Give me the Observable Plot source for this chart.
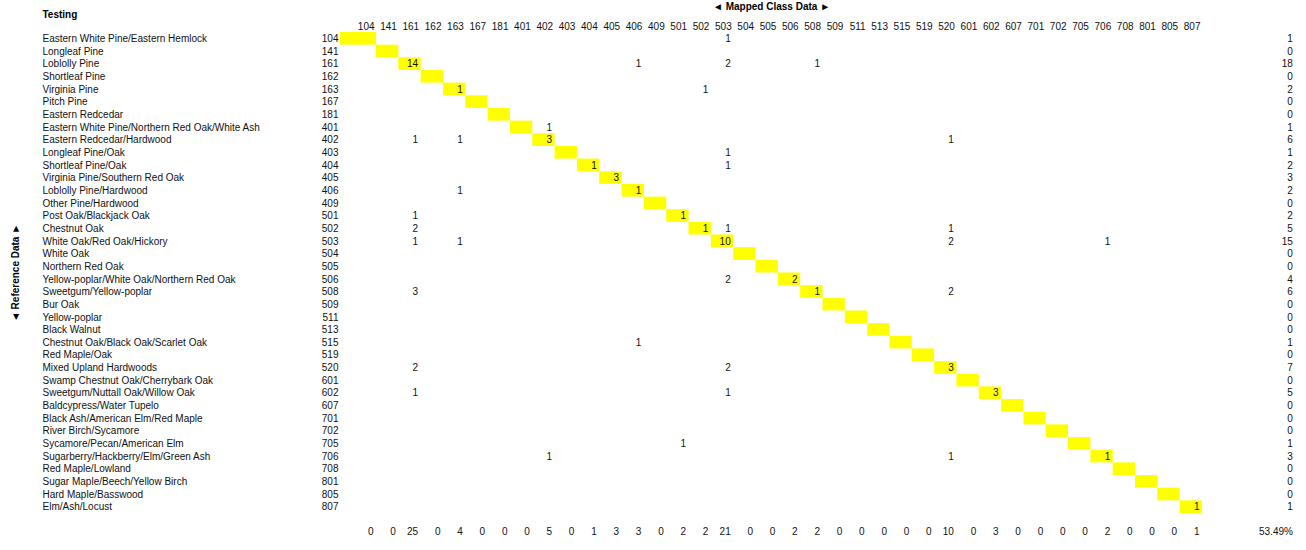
<!DOCTYPE html>
<html><head><meta charset="utf-8">
<script src="https://cdn.jsdelivr.net/npm/d3@7"></script>
<script src="https://cdn.jsdelivr.net/npm/@observablehq/plot@0.6"></script>
<style>body{margin:0;background:#fff;}</style>
</head><body><div id="chart"></div>
<script>
const title = "Testing";
const xTitle = "◄ Mapped Class Data ►";
const yTitle = "◄ Reference Data ►";

const codes = ["104","141","161","162","163","167","181","401","402","403","404","405","406","409",
  "501","502","503","504","505","506","508","509","511","513","515","519","520","601","602","607",
  "701","702","705","706","708","801","805","807"];

const names = ["Eastern White Pine/Eastern Hemlock","Longleaf Pine","Loblolly Pine","Shortleaf Pine",
  "Virginia Pine","Pitch Pine","Eastern Redcedar","Eastern White Pine/Northern Red Oak/White Ash",
  "Eastern Redcedar/Hardwood","Longleaf Pine/Oak","Shortleaf Pine/Oak","Virginia Pine/Southern Red Oak",
  "Loblolly Pine/Hardwood","Other Pine/Hardwood","Post Oak/Blackjack Oak","Chestnut Oak",
  "White Oak/Red Oak/Hickory","White Oak","Northern Red Oak","Yellow-poplar/White Oak/Northern Red Oak",
  "Sweetgum/Yellow-poplar","Bur Oak","Yellow-poplar","Black Walnut","Chestnut Oak/Black Oak/Scarlet Oak",
  "Red Maple/Oak","Mixed Upland Hardwoods","Swamp Chestnut Oak/Cherrybark Oak","Sweetgum/Nuttall Oak/Willow Oak",
  "Baldcypress/Water Tupelo","Black Ash/American Elm/Red Maple","River Birch/Sycamore",
  "Sycamore/Pecan/American Elm","Sugarberry/Hackberry/Elm/Green Ash","Red Maple/Lowland",
  "Sugar Maple/Beech/Yellow Birch","Hard Maple/Basswood","Elm/Ash/Locust"];

// [reference code, mapped code, count] — non-zero cells only
const counts = [
  ["104","503",1],
  ["161","161",14],["161","406",1],["161","503",2],["161","508",1],
  ["163","163",1],["163","502",1],
  ["401","402",1],
  ["402","161",1],["402","163",1],["402","402",3],["402","520",1],
  ["403","503",1],
  ["404","404",1],["404","503",1],
  ["405","405",3],
  ["406","163",1],["406","406",1],
  ["501","161",1],["501","501",1],
  ["502","161",2],["502","502",1],["502","503",1],["502","520",1],
  ["503","161",1],["503","163",1],["503","503",10],["503","520",2],["503","706",1],
  ["506","503",2],["506","506",2],
  ["508","161",3],["508","508",1],["508","520",2],
  ["515","406",1],
  ["520","161",2],["520","503",2],["520","520",3],
  ["602","161",1],["602","503",1],["602","602",3],
  ["705","501",1],
  ["706","402",1],["706","520",1],["706","706",1],
  ["807","807",1]
];

// derived
const colIndex = new Map(codes.map((c, i) => [c, i]));
const rowTotal = d3.rollup(counts, v => d3.sum(v, d => d[2]), d => d[0]);
const colTotal = d3.rollup(counts, v => d3.sum(v, d => d[2]), d => d[1]);
const total = d3.sum(counts, d => d[2]);
const correct = d3.sum(counts.filter(d => d[0] === d[1]), d => d[2]);
const accuracy = (correct / total * 100).toFixed(2) + "%";

// layout (column units): first column is wider
const FIRST = 1.613;
const TOTAL_X = 42.05;
const leftEdge = i => i === 0 ? 1 - FIRST : i;
const ink = "#111";

const chart = Plot.plot({
  width: 1306, height: 550,
  marginLeft: 340, marginRight: 104, marginTop: 32, marginBottom: 37,
  style: {fontFamily: "'Liberation Sans', Arial, sans-serif", fontSize: "10px", color: ink, background: "#fff"},
  x: {type: "linear", domain: [1 - FIRST, 38], axis: null},
  y: {type: "band", domain: codes, padding: 0, round: false, axis: null},
  marks: [
    Plot.barX(codes, {x1: (c, i) => leftEdge(i), x2: (c, i) => i + 1, y: c => c, fill: "#ffff00"}),
    Plot.text(counts, {x: d => colIndex.get(d[1]) + 1, y: d => d[0], text: d => String(d[2]),
      textAnchor: "end", lineAnchor: "middle", dx: -3, fill: ink}),
    // column header codes
    Plot.text(codes, {x: (c, i) => i + 1, text: c => c, frameAnchor: "top", dy: -6,
      textAnchor: "end", lineAnchor: "middle", dx: -2, fill: ink}),
    // row codes
    Plot.text(codes, {y: c => c, text: c => c, frameAnchor: "left", textAnchor: "end", lineAnchor: "middle", dx: -2, fill: ink}),
    // row names
    Plot.text(codes, {y: c => c, text: (c, i) => names[i], frameAnchor: "left", textAnchor: "start", lineAnchor: "middle", dx: -298, fill: ink}),
    // row totals
    Plot.text(codes, {y: c => c, x: () => TOTAL_X, text: c => String(rowTotal.get(c) ?? 0),
      textAnchor: "end", lineAnchor: "middle", fill: ink}),
    // column totals
    Plot.text(codes, {x: (c, i) => i + 1, text: c => String(colTotal.get(c) ?? 0), frameAnchor: "bottom",
      dy: 18, textAnchor: "end", lineAnchor: "middle", dx: -3, fill: ink}),
    // accuracy
    Plot.text([accuracy], {x: () => TOTAL_X, text: d => d, frameAnchor: "bottom", dy: 18, textAnchor: "end", lineAnchor: "middle", fill: ink}),
    // titles
    Plot.text([title], {text: d => d, frameAnchor: "top-left", dx: -298, dy: -18, textAnchor: "start", lineAnchor: "middle",
      fontWeight: "bold", fill: "#000"}),
    Plot.text([xTitle], {text: d => d, frameAnchor: "top", dy: -26, textAnchor: "middle", lineAnchor: "middle", fontWeight: "bold", fill: "#000"}),
    Plot.text([yTitle], {text: d => d, frameAnchor: "left", dx: -325, rotate: -90, textAnchor: "middle", lineAnchor: "middle", fontWeight: "bold", fill: "#000"})
  ]
});
document.getElementById("chart").append(chart);
</script>
</body></html>
